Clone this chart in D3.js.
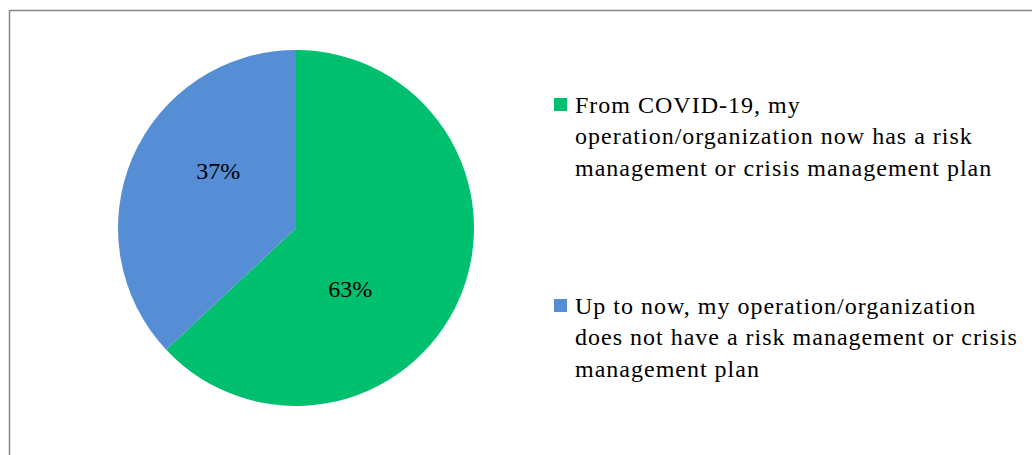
<!DOCTYPE html>
<html>
<head>
<meta charset="utf-8">
<script src="https://cdn.jsdelivr.net/npm/d3@7"></script>
<style>
  html, body { margin: 0; padding: 0; background: #fff; }
  svg { display: block; }
</style>
</head>
<body>
<svg id="chart"></svg>
<script>
// data
const categories = [
  "From COVID-19, my operation/organization now has a risk management or crisis management plan",
  "Up to now, my operation/organization does not have a risk management or crisis management plan"
];
const legendLines = [
  ["From COVID-19, my", "operation/organization now has a risk", "management or crisis management plan"],
  ["Up to now, my operation/organization", "does not have a risk management or crisis", "management plan"]
];
const values = [63, 37];
const colors = ["#00bf6f", "#558ed5"];

const FONT = "'Liberation Serif', 'Times New Roman', Times, serif";
const width = 1032;
const height = 455;

const svg = d3.select('#chart')
  .attr('width', width)
  .attr('height', height);

// chart area border (only top/left visible in crop)
svg.append('rect')
  .attr('x', 9.5)
  .attr('y', 10.5)
  .attr('width', 1040)
  .attr('height', 500)
  .attr('fill', 'none')
  .attr('stroke', '#868686')
  .attr('stroke-width', 1.5);

const cx = 296, cy = 228, radius = 178;

const pie = d3.pie().sort(null).value(d => d);
const arcs = pie(values);
const arc = d3.arc().innerRadius(0).outerRadius(radius);

const g = svg.append('g').attr('transform', `translate(${cx},${cy})`);

g.selectAll('path.slice')
  .data(arcs)
  .enter().append('path')
  .attr('class', 'slice')
  .attr('d', arc)
  .attr('fill', (d, i) => colors[i]);

// data labels (excel best-fit, nudged from mid angle)
const labelShift = [0.44, 0.22];
const labelRadius = [82, 96];
g.selectAll('text.lbl')
  .data(arcs)
  .enter().append('text')
  .attr('class', 'lbl')
  .attr('transform', (d, i) => {
    const a = (d.startAngle + d.endAngle) / 2 + labelShift[i];
    const p = d3.pointRadial(a, labelRadius[i]);
    return `translate(${p[0]},${p[1]})`;
  })
  .attr('text-anchor', 'middle')
  .attr('dy', '0.3em')
  .attr('font-family', FONT)
  .attr('font-size', 24)
  .attr('fill', '#000')
  .text(d => d.data + '%');

// legend
const legend = svg.append('g');
const legendY = [98, 299];
legendLines.forEach((lines, i) => {
  const item = legend.append('g').attr('transform', `translate(554,${legendY[i]})`);
  item.append('rect')
    .attr('width', 13)
    .attr('height', 13)
    .attr('fill', colors[i]);
  item.selectAll('text')
    .data(lines)
    .enter().append('text')
    .attr('x', 21)
    .attr('y', (d, j) => 14.5 + j * 31.5)
    .attr('font-family', FONT)
    .attr('font-size', 24)
    .attr('letter-spacing', 1)
    .attr('fill', '#000')
    .text(d => d);
});
</script>
</body>
</html>
